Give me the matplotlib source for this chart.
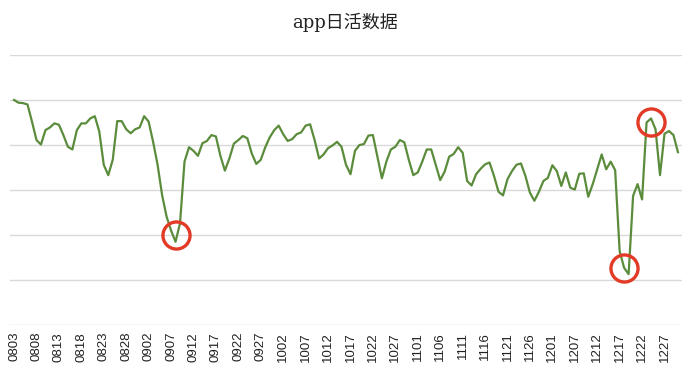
import matplotlib
matplotlib.use("Agg")
import matplotlib.pyplot as plt

# 日活数据 (相对刻度, 读图估计)
dau = [5.00, 4.94, 4.93, 4.90, 4.52, 4.11, 4.01, 4.33, 4.39, 4.48,
       4.45, 4.22, 3.96, 3.90, 4.33, 4.48, 4.48, 4.59, 4.64, 4.30,
       3.56, 3.33, 3.67, 4.53, 4.53, 4.35, 4.26, 4.35, 4.39, 4.64,
       4.52, 4.07, 3.56, 2.89, 2.41, 2.10, 1.85, 2.26, 3.63, 3.95,
       3.87, 3.76, 4.04, 4.09, 4.22, 4.19, 3.76, 3.43, 3.70, 4.03,
       4.11, 4.20, 4.15, 3.81, 3.58, 3.67, 3.95, 4.17, 4.33, 4.43,
       4.24, 4.09, 4.13, 4.24, 4.28, 4.43, 4.46, 4.11, 3.70, 3.79,
       3.93, 3.99, 4.07, 3.96, 3.56, 3.35, 3.87, 4.00, 4.02, 4.21,
       4.22, 3.74, 3.26, 3.63, 3.90, 3.96, 4.11, 4.06, 3.67, 3.33,
       3.39, 3.63, 3.90, 3.90, 3.56, 3.22, 3.41, 3.74, 3.80, 3.95,
       3.83, 3.20, 3.10, 3.35, 3.47, 3.57, 3.61, 3.31, 2.96, 2.88,
       3.24, 3.42, 3.56, 3.59, 3.31, 2.94, 2.76, 2.96, 3.20, 3.27,
       3.55, 3.42, 3.09, 3.39, 3.05, 3.01, 3.36, 3.37, 2.85, 3.13,
       3.46, 3.79, 3.46, 3.63, 3.44, 1.64, 1.27, 1.13, 2.87, 3.13,
       2.79, 4.50, 4.59, 4.35, 3.33, 4.25, 4.31, 4.22, 3.84]

tick_labels = ["0803", "0808", "0813", "0818", "0823", "0828", "0902", "0907",
               "0912", "0917", "0922", "0927", "1002", "1007", "1012", "1017",
               "1022", "1027", "1101", "1106", "1111", "1116", "1121", "1126",
               "1201", "1207", "1212", "1217", "1222", "1227"]

# 异常点 (红圈), 圈的位置是手画的, 不完全在数据点上
circle_idx = [36, 136, 142]
circle_val = [2.00, 1.27, 4.51]

fig = plt.figure(figsize=(6.9, 3.74), dpi=100)
ax = fig.add_axes([0.0145, 0.131, 0.9739, 0.722])

x = list(range(len(dau)))
ax.plot(x, dau, color="#5b8c3c", linewidth=1.6, zorder=3)

# 红圈标注
ax.plot(circle_idx, circle_val, linestyle="none",
        marker="o", markersize=19.5, markerfacecolor="none",
        markeredgecolor="#e23a26", markeredgewidth=2.4, zorder=4)

ax.set_xlim(-0.9, len(dau) - 0.1)
ax.set_ylim(0, 6)
ax.set_yticks(range(0, 7))
ax.yaxis.grid(True, color="#d9d9d9", linewidth=1.0)
ax.set_axisbelow(True)
ax.tick_params(axis="y", left=False, labelleft=False)

ax.set_xticks(range(0, 5 * len(tick_labels), 5))
ax.set_xticklabels(tick_labels, rotation=90, fontsize=9.5,
                   family="Liberation Sans", color="#222222")
ax.tick_params(axis="x", length=0, pad=5)

for s in ax.spines.values():
    s.set_visible(False)

fig.text(0.5, 0.94, "app日活数据", ha="center", va="center", fontsize=13,
         family=["DejaVu Serif", "Noto Sans CJK SC"], color="#222222")

fig.savefig("out.png", dpi=100)
